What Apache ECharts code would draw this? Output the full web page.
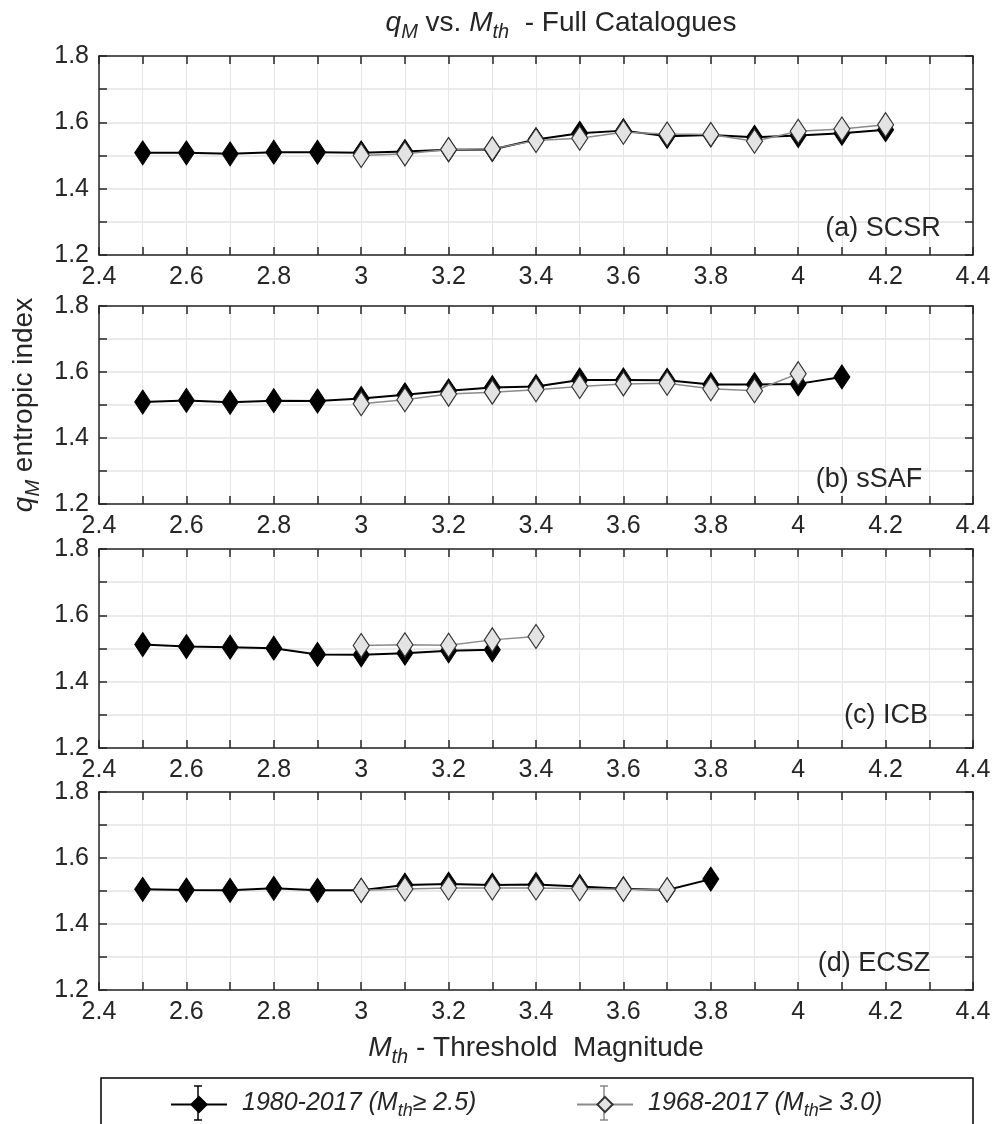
<!DOCTYPE html>
<html><head><meta charset="utf-8">
<script src="https://cdn.jsdelivr.net/npm/echarts@6/dist/echarts.min.js"></script>
<style>html,body{margin:0;padding:0;background:#fff}#c{width:995px;height:1124px}</style>
</head><body><div id="c"></div>
<script>
// ---------- data ----------
const xTickLabels = ['2.4','2.6','2.8','3','3.2','3.4','3.6','3.8','4','4.2','4.4'];
const yTickLabels = ['1.2','1.4','1.6','1.8'];
const panelNames = ['(a) SCSR', '(b) sSAF', '(c) ICB', '(d) ECSZ'];
const seriesNames = ['1980-2017 (Mth≥ 2.5)', '1968-2017 (Mth≥ 3.0)'];

const scsrMth1 = [2.5,2.6,2.7,2.8,2.9,3.0,3.1,3.2,3.3,3.4,3.5,3.6,3.7,3.8,3.9,4.0,4.1,4.2];
const scsrQ1   = [1.508,1.508,1.505,1.510,1.510,1.508,1.512,1.517,1.518,1.548,1.567,1.575,1.558,1.562,1.555,1.560,1.567,1.578];
const scsrMth2 = [3.0,3.1,3.2,3.3,3.4,3.5,3.6,3.7,3.8,3.9,4.0,4.1,4.2];
const scsrQ2   = [1.500,1.505,1.518,1.520,1.545,1.552,1.570,1.565,1.563,1.543,1.573,1.580,1.593];

const ssafMth1 = [2.5,2.6,2.7,2.8,2.9,3.0,3.1,3.2,3.3,3.4,3.5,3.6,3.7,3.8,3.9,4.0,4.1];
const ssafQ1   = [1.509,1.514,1.508,1.513,1.512,1.520,1.531,1.543,1.553,1.556,1.576,1.576,1.575,1.562,1.562,1.564,1.585];
const ssafMth2 = [3.0,3.1,3.2,3.3,3.4,3.5,3.6,3.7,3.8,3.9,4.0];
const ssafQ2   = [1.504,1.516,1.533,1.539,1.546,1.556,1.564,1.566,1.549,1.543,1.595];

const icbMth1 = [2.5,2.6,2.7,2.8,2.9,3.0,3.1,3.2,3.3];
const icbQ1   = [1.512,1.506,1.504,1.501,1.482,1.481,1.486,1.493,1.496];
const icbMth2 = [3.0,3.1,3.2,3.3,3.4];
const icbQ2   = [1.509,1.511,1.510,1.526,1.536];

const ecszMth1 = [2.5,2.6,2.7,2.8,2.9,3.0,3.1,3.2,3.3,3.4,3.5,3.6,3.7,3.8];
const ecszQ1   = [1.505,1.503,1.502,1.508,1.502,1.502,1.518,1.521,1.518,1.520,1.514,1.507,1.503,1.536];
const ecszMth2 = [3.0,3.1,3.2,3.3,3.4,3.5,3.6,3.7];
const ecszQ2   = [1.502,1.506,1.509,1.509,1.509,1.507,1.505,1.504];

const panels = [
  [scsrMth1, scsrQ1, scsrMth2, scsrQ2],
  [ssafMth1, ssafQ1, ssafMth2, ssafQ2],
  [icbMth1, icbQ1, icbMth2, icbQ2],
  [ecszMth1, ecszQ1, ecszMth2, ecszQ2]
];

// ---------- layout / style ----------
const FONT = "'Liberation Sans', Arial, Helvetica, sans-serif";
const TXT = '#262626';
const AX = '#262626';
const gridTops = [56, 306, 549, 792];
const gridHeights = [199, 198, 199, 198];
const labelPos = [[883, 229], [869, 480], [886, 716], [874, 964]];

function rich(fs, allItalic) {
  const base = {fontSize: fs, lineHeight: fs + 2, verticalAlign: 'top', color: TXT, fontFamily: FONT, fontWeight: 'normal'};
  const sfs = Math.round(fs * 0.72);
  return {
    n: Object.assign({}, base, allItalic ? {fontStyle: 'italic'} : {}),
    i: Object.assign({}, base, {fontStyle: 'italic'}),
    s: {fontSize: sfs, lineHeight: sfs, fontStyle: 'italic', fontWeight: 'normal', color: TXT, fontFamily: FONT,
        verticalAlign: 'top', padding: [Math.round(fs * 0.45), 0, 0, 0]}
  };
}

const zip = (a, b) => a.map((v, i) => [v, b[i]]);
const xFmt = v => { const k = Math.round(v * 10); return k % 2 === 0 ? (xTickLabels[(k - 24) / 2] || '') : ''; };
const yFmt = v => { const k = Math.round(v * 10); return k % 2 === 0 ? (yTickLabels[(k - 12) / 2] || '') : ''; };

const grids = [], xAxes = [], yAxes = [], series = [], graphics = [];
const tickStyle = {show: true, inside: true, length: 8, lineStyle: {color: AX, width: 1.5}};
const lineStyle = {show: true, onZero: false, lineStyle: {color: AX, width: 1.5}};

panels.forEach((p, i) => {
  grids.push({left: 99, width: 874, top: gridTops[i], height: gridHeights[i], containLabel: false});
  const xb = {
    gridIndex: i, type: 'value', position: 'bottom', min: 2.4, max: 4.4, interval: 0.1,
    axisLine: lineStyle, axisTick: tickStyle,
    axisLabel: {formatter: xFmt, margin: 10, fontSize: 25, color: TXT, fontFamily: FONT, showMinLabel: true, showMaxLabel: true},
    splitLine: {show: true, lineStyle: {color: '#e6e6e6', width: 1}}
  };
  if (i === 3) {
    xb.name = '{i|M}{s|th}{n| - Threshold  Magnitude}';
    xb.nameLocation = 'middle';
    xb.nameGap = 44;
    xb.nameTextStyle = {rich: rich(28, false)};
  }
  xAxes.push(xb);
  xAxes.push({
    gridIndex: i, type: 'value', position: 'top', min: 2.4, max: 4.4, interval: 0.1,
    axisLine: lineStyle, axisTick: tickStyle, axisLabel: {show: false}, splitLine: {show: false}
  });
  const yl = {
    gridIndex: i, type: 'value', position: 'left', min: 1.2, max: 1.8, interval: 0.1,
    axisLine: lineStyle, axisTick: tickStyle,
    axisLabel: {formatter: yFmt, margin: 10, fontSize: 25, color: TXT, fontFamily: FONT, showMinLabel: true, showMaxLabel: true},
    splitLine: {show: true, lineStyle: {color: '#e3e3e3', width: 1.5}}
  };
  if (i === 1) {
    yl.name = '{i|q}{s|M}{n| entropic index}';
    yl.nameLocation = 'middle';
    yl.nameGap = 52;
    yl.nameRotate = 90;
    yl.nameTextStyle = {rich: rich(28, false)};
  }
  yAxes.push(yl);
  yAxes.push({
    gridIndex: i, type: 'value', position: 'right', min: 1.2, max: 1.8, interval: 0.1,
    axisLine: lineStyle, axisTick: tickStyle, axisLabel: {show: false}, splitLine: {show: false}
  });
  series.push({
    type: 'line', name: seriesNames[0], xAxisIndex: 2 * i, yAxisIndex: 2 * i,
    data: zip(p[0], p[1]), symbol: 'diamond', symbolSize: [16, 24],
    lineStyle: {color: '#000', width: 2}, itemStyle: {color: '#000', borderColor: '#000', borderWidth: 1},
    z: 3, animation: false
  });
  series.push({
    type: 'line', name: seriesNames[1], xAxisIndex: 2 * i, yAxisIndex: 2 * i,
    data: zip(p[2], p[3]), symbol: 'diamond', symbolSize: [16, 24],
    lineStyle: {color: '#8a8a8a', width: 1.5}, itemStyle: {color: '#e3e3e3', borderColor: '#333', borderWidth: 1.2},
    z: 4, animation: false
  });
  graphics.push({
    type: 'text', x: labelPos[i][0], y: labelPos[i][1], z: 10,
    style: {text: panelNames[i], fontSize: 27, fontFamily: FONT, fill: TXT, align: 'center', verticalAlign: 'middle', textAlign: 'center', textVerticalAlign: 'middle'}
  });
});

// legend frame and error-bar whiskers
graphics.push({type: 'rect', shape: {x: 101, y: 1078, width: 872, height: 80}, style: {fill: 'none', stroke: '#000', lineWidth: 1.5}, z: 0});
[[198, '#000'], [604, '#888']].forEach(([cx, col]) => {
  graphics.push({type: 'line', shape: {x1: cx, y1: 1086, x2: cx, y2: 1120}, style: {stroke: col, lineWidth: 1.5}, z: 0});
  graphics.push({type: 'line', shape: {x1: cx - 4, y1: 1086, x2: cx + 4, y2: 1086}, style: {stroke: col, lineWidth: 1.5}, z: 0});
  graphics.push({type: 'line', shape: {x1: cx - 4, y1: 1120, x2: cx + 4, y2: 1120}, style: {stroke: col, lineWidth: 1.5}, z: 0});
});

const legendFmt = name => name === seriesNames[0]
  ? '{n|1980-2017 (M}{s|th}{n|≥ 2.5)}'
  : '{n|1968-2017 (M}{s|th}{n|≥ 3.0)}';
const legendText = {rich: rich(25, true), padding: [0, 0, 0, 10]};

const option = {
  backgroundColor: '#fff',
  animation: false,
  title: {
    text: '{i|q}{s|M}{n| vs. }{i|M}{s|th}{n|  - Full Catalogues}',
    left: 561, textAlign: 'center', top: 9, padding: 0,
    textStyle: {fontWeight: 'normal', rich: rich(28, false)}
  },
  legend: [
    {data: [seriesNames[0]], left: 170, top: 1091, padding: 0, itemWidth: 56, itemHeight: 19, formatter: legendFmt, textStyle: legendText, selectedMode: false},
    {data: [seriesNames[1]], left: 576, top: 1091, padding: 0, itemWidth: 56, itemHeight: 19, formatter: legendFmt, textStyle: legendText, selectedMode: false}
  ],
  grid: grids, xAxis: xAxes, yAxis: yAxes, series: series, graphic: graphics
};

const chart = echarts.init(document.getElementById('c'), null, {renderer: 'canvas'});
chart.setOption(option);
</script></body></html>
